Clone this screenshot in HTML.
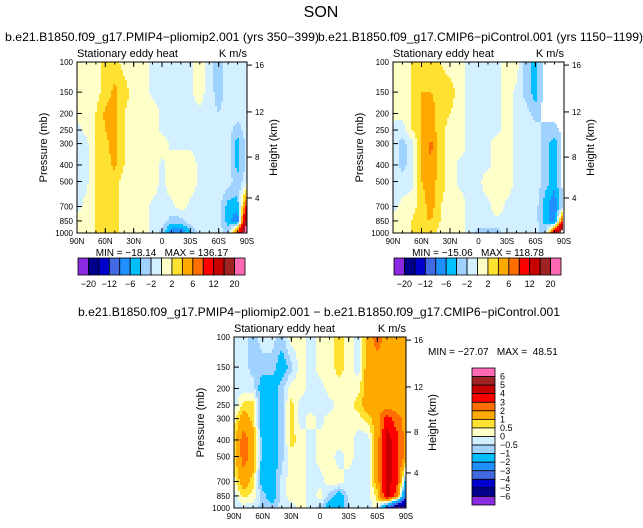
<!DOCTYPE html>
<html><head><meta charset="utf-8"><style>
body{margin:0;background:#fff}
svg{display:block;font-family:"Liberation Sans",sans-serif}
text{white-space:pre}
</style></head><body>
<svg id="c" width="643" height="528" xmlns="http://www.w3.org/2000/svg">
<rect width="643" height="528" fill="#fff"/>
<text x="321" y="17" font-size="16" text-anchor="middle">SON</text>
<text x="5" y="41" font-size="12" textLength="314" lengthAdjust="spacingAndGlyphs">b.e21.B1850.f09_g17.PMIP4−pliomip2.001 (yrs 350−399)</text>
<text x="318" y="41" font-size="12" textLength="325" lengthAdjust="spacingAndGlyphs">b.e21.B1850.f09_g17.CMIP6−piControl.001 (yrs 1150−1199)</text>
<text x="78" y="316" font-size="12" textLength="482" lengthAdjust="spacingAndGlyphs">b.e21.B1850.f09_g17.PMIP4−pliomip2.001 − b.e21.B1850.f09_g17.CMIP6−piControl.001</text>
</svg>
<script>
const lats=["90N","80N","70N","60N","50N","40N","30N","20N","10N","0","10S","20S","30S","40S","50S","60S","70S","80S","90S"];
const pLevels=[100,150,200,250,300,400,500,700,850,1000];
const xTickLabels=["90N","60N","30N","0","30S","60S","90S"];
const pTickLabels=[100,150,200,250,300,400,500,700,850,1000];
const hTickLabels=[4,8,12,16];
const hTickFrac=[0.795,0.556,0.292,0.018];
const colors=["#8a2be2","#00008b","#0000cd","#4169e1","#1e90ff","#00bfff","#a0d2ff","#d2f0ff","#ffffc8","#ffe132","#ffaa00","#ff6e00","#ff0000","#c80000","#a02323","#ff69b4"];
const levelsAbs=[-20,-16,-12,-8,-6,-4,-2,0,2,4,6,8,12,16,20];
const levelsDiff=[-6,-5,-4,-3,-2,-1,-0.5,0,0.5,1,2,3,4,5,6];
const absBarLabels=["−20","−12","−6","−2","2","6","12","20"];
const diffBarLabels=["6","5","4","3","2","1","0.5","0","−0.5","−1","−2","−3","−4","−5","−6"];
const pliomip=[
[0.5,0.5,1,3,3,1,1,1,-0.5,-0.5,-0.5,-0.5,-0.5,1,-1,-3,-1,-1,-1],
[0.5,0.5,1,3,4.5,3,1,1,-0.5,-0.5,-0.5,-0.5,-0.5,1,-1,-3,-1,-1,-1],
[0.5,0.5,2,4.5,5,2,1,1,1,-0.5,-0.5,-0.5,-0.5,-0.5,-1,-2,-1,-1,-1],
[-0.5,0.5,2,4,5,2,1,1,1,-0.5,-0.5,-0.5,-0.5,-0.5,-0.5,-1,-1,-3,-1],
[-0.5,-0.5,2,3.5,5,2,1,1,1,1,-0.5,-0.5,-0.5,-0.5,-0.5,-1,-1,-5,-1],
[-0.5,-0.5,2,3,4.5,2,1,1,1,-0.5,1,1,1,-0.5,-0.5,-1,-1,-5,-1],
[-0.5,-0.5,2,3,3,1,1,1,1,-0.5,1,1,1,-0.5,-0.5,-0.5,-1,-3,-1],
[-0.5,0.5,2,3,3,1,1,1,-0.5,-0.5,-0.5,1,-0.5,-0.5,-0.5,-1,-5,-5,10],
[0.5,0.5,2,3,3,1,1,1,-0.5,-0.5,-3,-3,-0.5,-0.5,-0.5,-1,-5,-8,20],
[0.5,0.5,2,3,3,1,1,0.5,-0.5,-3,-8,-8,-5,-0.5,-0.5,-1,-3,10,25]];
const picontrol=[
[0.5,0.5,2,3,4,2,1,1,-0.5,-0.5,-0.5,-0.5,1,1,-3,-5,-1,-0.5,-0.5],
[0.5,0.5,2,4,4,3,3,1,-0.5,-0.5,-0.5,-0.5,1,-0.5,-3,-5,-1,-0.5,-0.5],
[0.5,0.5,2,4,5,3,2,1,-0.5,-0.5,-0.5,-0.5,1,-0.5,-1,-3,-1,-1,-0.5],
[-0.5,-1,2,4,5,3,1,1,-0.5,-0.5,-0.5,-0.5,1,-0.5,-0.5,-1,-3,-3,-1],
[-0.5,-3,-0.5,4,6.5,3,1,1,-0.5,-0.5,-0.5,1,1,-0.5,-0.5,-1,-3,-5,-1],
[-0.5,-3,-0.5,4,6,3,1,-0.5,-0.5,-0.5,-0.5,1,1,-0.5,-0.5,-1,-3,-5,-1],
[-0.5,-1,-0.5,4,5,3,1,-0.5,-0.5,-0.5,1,1,1,-0.5,-0.5,-0.5,-3,-5,-1],
[-0.5,0.5,1,3,5,2,1,1,-0.5,-0.5,-0.5,1,-0.5,-0.5,-0.5,-1,-5,-8,-1],
[0.5,0.5,2,4,4,2,1,1,-0.5,-0.5,-0.5,-0.5,-0.5,-0.5,-0.5,-1,-5,-8,12],
[0.5,0.5,2,4,3,1,1,1,-0.5,-3,-3,-3,-0.5,-0.5,-0.5,-1,-3,14,25]];
const difference=[
[-0.3,-0.3,-0.7,-0.3,-0.3,-0.7,0.3,0.3,-0.3,0.3,0.3,0.7,0.3,-0.3,1.5,2.5,1.5,1.5,1.5],
[-0.3,-0.3,-0.7,-0.7,-0.7,-1.5,-0.7,0.3,-0.3,0.3,0.3,0.7,0.3,-0.3,1.5,1.5,1.5,1.5,1.5],
[-0.3,-0.3,-0.3,-1.5,-1.5,-0.7,0.3,0.3,-0.3,-0.3,0.3,0.3,0.3,0.3,1.5,1.5,1.5,1.5,1.5],
[-0.3,0.7,0.7,-1.5,-1.5,-0.7,0.7,-0.3,-0.3,-0.3,-0.3,0.3,0.3,0.7,1.5,1.5,1.5,1.5,1.5],
[0.3,1.5,0.7,-1.5,-1.5,-0.7,0.7,-0.3,0.3,-0.3,0.3,0.3,0.3,0.3,0.7,1.5,3.5,2.5,1.5],
[0.7,2.5,1.5,-1.5,-1.5,-0.7,0.7,0.3,-0.3,0.3,0.3,0.3,0.3,-0.3,-0.3,1.5,4.5,3.5,1.5],
[0.7,2.5,1.5,-1.5,-1.5,-0.7,0.3,0.3,-0.3,0.3,0.3,-0.3,0.3,-0.3,-0.3,1.5,4.5,3.5,1.5],
[0.3,1.5,0.7,-1.5,-1.5,-0.3,0.3,0.3,-0.3,-0.3,0.3,0.3,-0.3,-0.3,-0.3,1.5,4.5,3.5,-1.5],
[-0.3,0.7,0.3,-0.7,-1.5,-0.3,0.3,0.3,-0.3,0.3,-0.7,-1.5,-0.3,-0.3,-0.3,0.7,4.5,2.5,-3.5],
[-0.3,-0.3,-0.3,-0.7,-0.7,-0.3,-0.3,0.3,-0.3,-0.7,-1.5,-1.5,-0.3,-0.3,-0.3,0.3,-3.5,-6.5,-6.5]];

const NS="http://www.w3.org/2000/svg";
const svg=document.getElementById('c');
function mk(tag,attrs,parent){const e=document.createElementNS(NS,tag);for(const k in attrs)e.setAttribute(k,attrs[k]);(parent||svg).appendChild(e);return e;}
function classify(v,lev){let i=0;while(i<lev.length&&v>=lev[i])i++;return i;}
function sample(data,fx,fy){
  const lp=pLevels.map(p=>Math.log10(p));
  let r=0;while(r<lp.length-2&&fy>lp[r+1])r++;
  let ty=(fy-lp[r])/(lp[r+1]-lp[r]);ty=Math.max(0,Math.min(1,ty));
  let c=Math.min(Math.floor(fx),lats.length-2);let tx=fx-c;
  const a=data[r][c],b=data[r][c+1],d=data[r+1][c],e=data[r+1][c+1];
  return (a*(1-tx)+b*tx)*(1-ty)+(d*(1-tx)+e*tx)*ty;
}
function panel(name,x0,y0,W,H,data,lev,minmax,mmx,mmy){
  const g=mk('g',{});
  
  
  const xS=i=>x0+W*i/(lats.length-1);
  const yS=p=>y0+H*(Math.log10(p)-2);
  const step=2;
  for(let py=0;py<H;py+=step){
    const fy=2+(py+step/2)/H;
    let runStart=0,runCls=null;
    for(let px=0;px<=W;px+=step){
      let cls=-1;
      if(px<W){const fx=(px+step/2)/W*(lats.length-1);cls=classify(sample(data,fx,fy),lev);}
      if(cls!==runCls){
        if(runCls!==null){
          const rc=mk('rect',{x:x0+runStart,y:y0+py,width:Math.min(px,W)-runStart,height:Math.min(step,H-py)+0.3,fill:colors[runCls]},g);
          
          
        }
        runStart=px;runCls=cls;
      }
    }
  }
  const fr=mk('rect',{x:x0,y:y0,width:W,height:H,fill:'none',stroke:'#000','stroke-width':1},g);
  
  
  xTickLabels.forEach((l,i)=>{
    const x=xS(i*3);
    mk('line',{x1:x,x2:x,y1:y0+H,y2:y0+H-5,stroke:'#000'},g);
    mk('line',{x1:x,x2:x,y1:y0,y2:y0+5,stroke:'#000'},g);
    const t=mk('text',{x:x,y:y0+H+11,'font-size':8,'text-anchor':'middle'},g);t.textContent=l;
    
    
  });
  for(let i=0;i<lats.length;i++){const x=xS(i);mk('line',{x1:x,x2:x,y1:y0+H,y2:y0+H-2.5,stroke:'#000'},g);mk('line',{x1:x,x2:x,y1:y0,y2:y0+2.5,stroke:'#000'},g);}
  pTickLabels.forEach(p=>{
    const y=yS(p);
    mk('line',{x1:x0,x2:x0+5,y1:y,y2:y,stroke:'#000'},g);
    const t=mk('text',{x:x0-4,y:y+3,'font-size':8,'text-anchor':'end'},g);t.textContent=p;
    
    
  });
  hTickLabels.forEach((h,i)=>{
    const y=y0+H*hTickFrac[i];
    mk('line',{x1:x0+W,x2:x0+W+5,y1:y,y2:y,stroke:'#000'},g);
    const t=mk('text',{x:x0+W+8,y:y+3,'font-size':8},g);t.textContent=h;
    
    
  });
  const yt=mk('text',{x:0,y:0,'font-size':11,'text-anchor':'middle',transform:`translate(${x0-30},${y0+H/2}) rotate(-90)`},g);yt.textContent='Pressure (mb)';
  
  
  const ht=mk('text',{x:0,y:0,'font-size':11,'text-anchor':'middle',transform:`translate(${x0+W+30},${y0+H/2}) rotate(-90)`},g);ht.textContent='Height (km)';
  
  
  const st=mk('text',{x:x0,y:y0-5,'font-size':11},g);st.textContent='Stationary eddy heat';
  
  
  const un=mk('text',{x:x0+W,y:y0-5,'font-size':11,'text-anchor':'end'},g);un.textContent='K m/s';
  
  
  if(minmax){
    const mm=mk('text',{x:mmx,y:mmy,'font-size':10,'text-anchor':'middle'},g);mm.textContent=minmax;
    
    
  }
}
function hbar(x0,y0,W,H){
  const g=mk('g',{});
  
  
  const bw=W/colors.length;
  colors.forEach((c,i)=>{const r=mk('rect',{x:x0+i*bw,y:y0,width:bw,height:H,fill:c,stroke:'#000','stroke-width':0.8},g);
    
    });
  absBarLabels.forEach((l,i)=>{const t=mk('text',{x:x0+(2*i+1)*bw,y:y0+H+12,'font-size':9,'text-anchor':'middle'},g);t.textContent=l;
    
    });
}
panel('pliomip-panel',77,62,170,171,pliomip,levelsAbs,'MIN = −18.14   MAX = 136.17',162,256);
panel('picontrol-panel',393,62,171,171,picontrol,levelsAbs,'MIN = −15.06   MAX = 118.78',478,256);
panel('difference-panel',234,337,172,171,difference,levelsDiff,'',0,0);
hbar(78,258,167,17);
hbar(394,258,167,17);
const mm3=mk('text',{x:428,y:355,'font-size':10});mm3.textContent='MIN = −27.07   MAX =  48.51';


const vb=mk('g',{});


const bh=137/colors.length;
colors.slice().reverse().forEach((c,i)=>{const r=mk('rect',{x:472,y:368+i*bh,width:23,height:bh,fill:c,stroke:'#000','stroke-width':0.8},vb);
  
  });
diffBarLabels.forEach((l,i)=>{const t=mk('text',{x:500,y:368+(i+1)*bh+3,'font-size':9},vb);t.textContent=l;
  
  });
</script>
</body></html>
